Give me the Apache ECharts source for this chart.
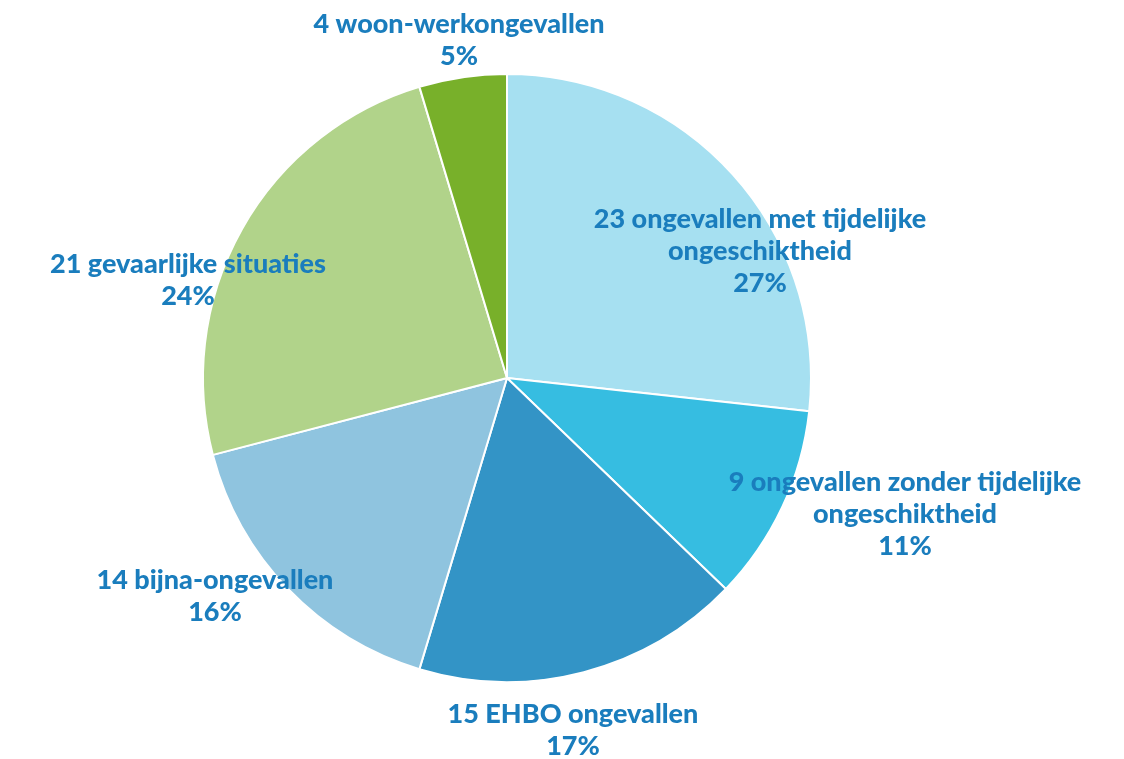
<!DOCTYPE html>
<html>
<head>
<meta charset="utf-8">
<title>Ongevallen</title>
<script src="https://cdn.jsdelivr.net/npm/echarts@6/dist/echarts.min.js"></script>
<style>
  html, body { margin: 0; padding: 0; background: #fff; }
  #chart { width: 1124px; height: 759px; }
</style>
</head>
<body>
<div id="chart"></div>
<script>
// data, clockwise from 12 o'clock
var names = ['23 ongevallen met tijdelijke\nongeschiktheid', '9 ongevallen zonder tijdelijke\nongeschiktheid', '15 EHBO ongevallen', '14 bijna-ongevallen', '21 gevaarlijke situaties', '4 woon-werkongevallen'];
var values = [23, 9, 15, 14, 21, 4];
var pctLabels = ['27%', '11%', '17%', '16%', '24%', '5%'];

var colors = ['#a6e0f1', '#36bde1', '#3394c6', '#8fc4df', '#b1d38a', '#78b02a'];
// label block centres (px)
var labelPos = [[760, 251], [905, 514], [573, 730], [215, 596], [188, 280], [459, 40]];

var chart = echarts.init(document.getElementById('chart'));

var data = values.map(function (v, i) {
  return {
    value: v,
    name: names[i],
    pct: pctLabels[i],
    itemStyle: { color: colors[i] }
  };
});

var option = {
  animation: false,
  series: [{
    type: 'pie',
    center: [507, 378],
    radius: 304,
    startAngle: 90,
    clockwise: true,
    data: data,
    itemStyle: { borderColor: '#fff', borderWidth: 2 },
    label: {
      show: true,
      position: 'outside',
      formatter: function (p) { return p.name + '\n' + p.data.pct; },
      color: '#1a7dbd',
      fontFamily: 'Lato',
      fontWeight: 900,
      fontSize: 27,
      lineHeight: 32,
      align: 'center',
      overflow: 'none'
    },
    labelLine: { show: false },
    labelLayout: function (params) {
      var p = labelPos[params.dataIndex];
      return { x: p[0], y: p[1], align: 'center', verticalAlign: 'middle' };
    }
  }]
};

chart.setOption(option);
</script>
</body>
</html>
